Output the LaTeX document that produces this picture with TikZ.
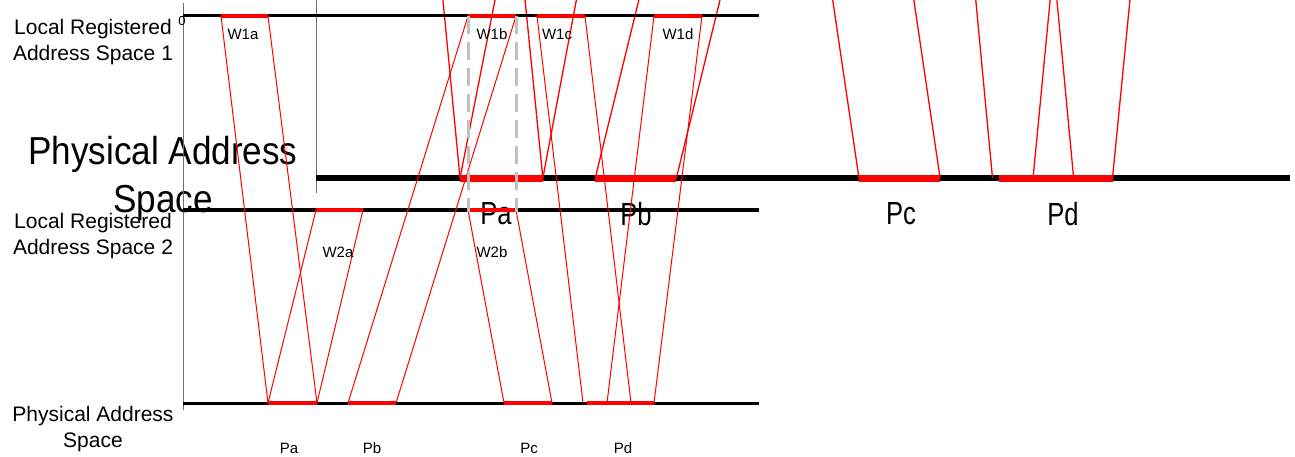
\documentclass[tikz,border=0pt]{standalone}
\usepackage{fontspec}
\setmainfont{Liberation Sans}
\definecolor{axisgray}{RGB}{110,110,110}
\definecolor{dashgray}{RGB}{192,192,192}
\newcommand\lblfont{\fontsize{21}{26}\selectfont}
\newcommand\wfont{\fontsize{15}{18}\selectfont}
\newcommand\zerofont{\fontsize{13}{15}\selectfont}
\newcommand\biglblfont{\fontsize{39}{48}\selectfont}
\newcommand\bigpfont{\fontsize{32}{36}\selectfont}
\tikzset{
  spaceline/.style={draw=black, line width=#1},
  window/.style={draw=red, line width=#1},
  mapline/.style={draw=red, line width=#1},
  axisline/.style={draw=axisgray, line width=#1},
  aliasline/.style={draw=dashgray, line width=#1, dash pattern=on 18pt off 8pt},
  lbl/.style={inner sep=0pt, align=center, font=\lblfont},
  wlbl/.style={inner sep=0pt, font=\wfont},
  zerolbl/.style={inner sep=0pt, font=\zerofont},
  biglbl/.style={inner sep=0pt, align=center, font=\biglblfont, xscale=0.9},
  bigplbl/.style={inner sep=0pt, font=\bigpfont, xscale=0.8},
}
% #1 prefix, #2 axis width, #3 address line width, #4 window width, #5 map line width, #6 dash width
\newcommand\addrmap[6]{%
  \coordinate (#1axT) at (183,3);   \coordinate (#1axB) at (183,410);
  \coordinate (#1LAs) at (183,16);  \coordinate (#1LAe) at (759,16);
  \coordinate (#1LBs) at (183,210); \coordinate (#1LBe) at (759,210);
  \coordinate (#1LCs) at (183,403); \coordinate (#1LCe) at (759,403);
  \coordinate (#1W1aL) at (221,16); \coordinate (#1W1aR) at (268,16);
  \coordinate (#1W1bL) at (468,16); \coordinate (#1W1bR) at (516,16);
  \coordinate (#1W1cL) at (537,16); \coordinate (#1W1cR) at (585,16);
  \coordinate (#1W1dL) at (654,16); \coordinate (#1W1dR) at (702,16);
  \coordinate (#1W2aL) at (316,210); \coordinate (#1W2aR) at (363,210);
  \coordinate (#1W2bL) at (468,210); \coordinate (#1W2bR) at (516,210);
  \coordinate (#1PaL) at (268,403); \coordinate (#1PaR) at (317,403);
  \coordinate (#1PbL) at (348,403); \coordinate (#1PbR) at (396,403);
  \coordinate (#1PcL) at (504,403); \coordinate (#1PcR) at (552,403);
  \coordinate (#1PdL) at (587,403); \coordinate (#1PdR) at (654,403);
  \coordinate (#1PdcL) at (583,403); \coordinate (#1PdcR) at (631,403);
  \coordinate (#1PddL) at (607,403);
  \draw[axisline=#2] (#1axT) -- (#1axB);
  \draw[spaceline=#3] (#1LAs) -- (#1LAe);
  \draw[spaceline=#3] (#1LBs) -- (#1LBe);
  \draw[spaceline=#3] (#1LCs) -- (#1LCe);
  \draw[window=#4] (#1W1aL) -- (#1W1aR);
  \draw[window=#4] (#1W1bL) -- (#1W1bR);
  \draw[window=#4] (#1W1cL) -- (#1W1cR);
  \draw[window=#4] (#1W1dL) -- (#1W1dR);
  \draw[window=#4] (#1W2aL) -- (#1W2aR);
  \draw[window=#4] (#1W2bL) -- (#1W2bR);
  \draw[window=#4] (#1PaL) -- (#1PaR);
  \draw[window=#4] (#1PbL) -- (#1PbR);
  \draw[window=#4] (#1PcL) -- (#1PcR);
  \draw[window=#4] (#1PdL) -- (#1PdR);
  \draw[mapline=#5] (#1W1aL) -- (#1PaL);
  \draw[mapline=#5] (#1W1aR) -- (#1PaR);
  \draw[mapline=#5] (#1W2aL) -- (#1PaL);
  \draw[mapline=#5] (#1W2aR) -- (#1PaR);
  \draw[mapline=#5] (#1PbL) -- (#1W1bL);
  \draw[mapline=#5] (#1PbR) -- (#1W1bR);
  \draw[mapline=#5] (#1W2bL) -- (#1PcL);
  \draw[mapline=#5] (#1W2bR) -- (#1PcR);
  \draw[mapline=#5] (#1W1cL) -- (#1PdcL);
  \draw[mapline=#5] (#1W1cR) -- (#1PdcR);
  \draw[mapline=#5] (#1W1dL) -- (#1PddL);
  \draw[mapline=#5] (#1W1dR) -- (#1PdR);
  \draw[aliasline=#6] (#1W1bL) -- ([yshift=-2pt]#1W2bL);
  \draw[aliasline=#6] (#1W1bR) -- ([yshift=-2pt]#1W2bR);
}
\begin{document}
\begin{tikzpicture}[x=1pt, y=-1pt]
  \path[use as bounding box, fill=white] (0,0) rectangle (1295,457);
  % enlarged copy of the map, only partly visible
  \begin{scope}
    \clip (0,0) rectangle (1295,457);
    \begin{scope}[xshift=7pt, yshift=684.4pt, xscale=1.69, yscale=2.14]
      \addrmap{big}{1.2pt}{6.5pt}{7pt}{1.3pt}{6pt}
    \end{scope}
    \node[biglbl] (bigpas) at (163,178) {Physical Address\\Space};
    \node[bigplbl] (bigPa) at (496,214) {Pa};
    \node[bigplbl] (bigPb) at (636,214) {Pb};
    \node[bigplbl] (bigPc) at (901,214) {Pc};
    \node[bigplbl] (bigPd) at (1063,214) {Pd};
  \end{scope}
  % normal map
  \addrmap{s}{1pt}{3pt}{3.5pt}{1pt}{3pt}
  \node[lbl] (lras1) at (93,42) {Local Registered\\Address Space 1};
  \node[lbl] (lras2) at (93,236) {Local Registered\\Address Space 2};
  \node[lbl] (pas) at (93,429) {Physical Address\\Space};
  \node[zerolbl] (zero) at (182,21) {0};
  \node[wlbl] (lW1a) at (243,34) {W1a};
  \node[wlbl] (lW1b) at (492,34) {W1b};
  \node[wlbl] (lW1c) at (557,34) {W1c};
  \node[wlbl] (lW1d) at (678,34) {W1d};
  \node[wlbl] (lW2a) at (338,252) {W2a};
  \node[wlbl] (lW2b) at (492,252) {W2b};
  \node[wlbl] (lPa) at (289,448) {Pa};
  \node[wlbl] (lPb) at (372,448) {Pb};
  \node[wlbl] (lPc) at (529,448) {Pc};
  \node[wlbl] (lPd) at (623,448) {Pd};
\end{tikzpicture}
\end{document}
